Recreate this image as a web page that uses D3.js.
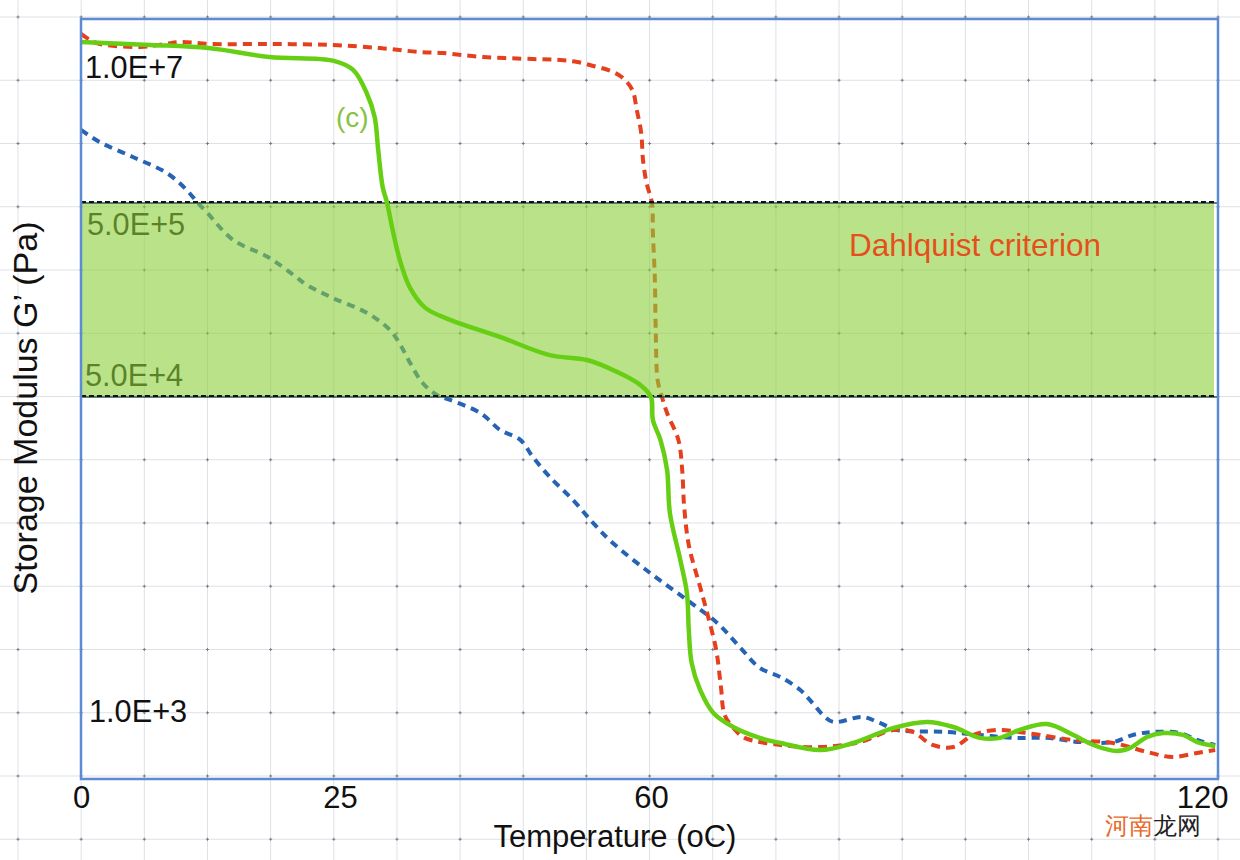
<!DOCTYPE html>
<html>
<head>
<meta charset="utf-8">
<script src="https://cdn.jsdelivr.net/npm/d3@7"></script>
<style>
body { margin: 0; background: #fff; }
text { font-family: "Liberation Sans", Arial, sans-serif; }
</style>
</head>
<body>
<svg id="chart" width="1240" height="860"></svg>
<script>
// axis values
var tempTicks = [0, 25, 60, 120];
var gLabelVals = [1e7, 5e5, 5e4, 1e3];
var gLabelText = ["1.0E+7", "5.0E+5", "5.0E+4", "1.0E+3"];
var dahlquist = [5e4, 5e5];

// sample (c) - solid green
var tempC = [0, 6.7, 12.3, 18.2, 24.4, 26.5, 28.0, 28.9, 29.3, 29.8, 30.3, 31.0, 31.8, 32.9, 34.6,
  37.4, 43.0, 48.6, 52.8, 56.2, 58.8, 60, 60.2, 61.0, 61.7, 62.0, 63.1, 63.8, 64.0, 64.3,
  65.2, 66.6, 68.7, 71.5, 73.7, 77.9, 81.4, 85.6, 89.2, 92.0, 94.8, 96.9, 99.0, 101.9, 104.7,
  106.8, 109.3, 110.7, 112.5, 114.2, 116.3, 117.8, 119.7];
var gC = [2.44e7, 2.28e7, 2.11e7, 1.70e7, 1.55e7, 1.24e7, 7.13e6, 3.99e6, 1.80e6, 7.36e5,
  5.0e5, 3.50e5, 2.48e5, 1.82e5, 1.44e5, 1.25e5, 1.02e5, 8.22e4, 7.76e4, 6.73e4,
  5.77e4, 5.0e4, 3.76e4, 2.94e4, 2.03e4, 1.19e4, 6650, 4420, 2790, 1860,
  1330, 1000, 841, 735, 690, 632, 690, 830, 895, 841,
  735, 735, 811, 873, 762, 673, 625, 649, 743, 780,
  762, 698, 665];

// red dashed
var tempR = [0, 0.9, 1.8, 5.7, 8.1, 9.6, 12.5, 18.2, 24.0, 29.5, 34.0, 36.6, 41.1, 46.7, 49.8,
  51.7, 53.5, 55.2, 56.7, 57.9, 58.4, 58.9, 59.1, 59.5, 60.1, 60.2, 60.4, 60.5, 60.7, 61.1,
  61.7, 62.9, 63.3, 63.5, 64.0, 65.2, 66.0, 66.9, 67.4, 67.8, 68.9, 69.9, 73.7, 77.9, 82.1,
  85.6, 87.7, 89.8, 92.0, 94.1, 96.6, 99.8, 104.7, 108.9, 112.5, 115.2, 117.8, 119.7];
var gR = [2.97e7, 2.56e7, 2.33e7, 2.17e7, 2.33e7, 2.44e7, 2.33e7, 2.33e7, 2.28e7, 2.11e7,
  1.92e7, 1.87e7, 1.70e7, 1.62e7, 1.58e7, 1.51e7, 1.37e7, 1.24e7, 1.05e7, 7.67e6,
  4.73e6, 2.71e6, 1.41e6, 8.11e5, 5.0e5, 3.50e5, 2.08e5, 1.11e5, 6.12e4, 5.12e4,
  4.10e4, 2.94e4, 2.03e4, 1.31e4, 8000, 4760, 3360, 2180, 1380, 975,
  811, 735, 673, 656, 698, 811, 791, 673, 656, 762,
  811, 780, 716, 690, 617, 580, 610, 632];

// blue dashed
var tempB = [0, 1.8, 5.0, 8.3, 10.2, 11.2, 12.2, 14.7, 18.0, 20.5, 21.8, 24.3, 28.0, 30.6, 31.8,
  32.9, 34.3, 35.9, 37.4, 40.8, 43.0, 45.3, 46.7, 48.6, 51.2, 53.5, 55.7, 59.9, 63.8, 67.0,
  69.4, 71.5, 73.7, 75.8, 77.1, 78.2, 79.3, 82.4, 84.2, 86.0, 91.3, 94.8, 98.3, 101.9, 105.4,
  108.9, 111.0, 113.1, 116.0, 117.8, 119.7];
var gB = [2.92e6, 2.18e6, 1.52e6, 1.03e6, 6.84e5, 5.12e5, 4.44e5, 3.22e5, 2.64e5, 2.13e5,
  1.89e5, 1.62e5, 1.36e5, 1.11e5, 9.27e4, 7.48e4, 5.90e4, 5.12e4, 4.82e4, 4.10e4,
  3.33e4, 2.94e4, 2.38e4, 1.86e4, 1.40e4, 1.05e4, 8200, 5660, 4060, 3050,
  2260, 1750, 1560, 1330, 1130, 975, 895, 951, 884, 811,
  791, 762, 735, 735, 698, 698, 762, 791, 780, 716, 673];

var svg = d3.select("#chart"),
    W = +svg.attr("width"),
    H = +svg.attr("height");
var pLeft = 81, pRight = 1218, pTop = 19, pBottom = 779;

// the original axis is not linear, so the scales are piecewise
var x = d3.scaleLinear()
    .domain(tempTicks)
    .range([pLeft, 340, 651, pRight]);
var y = d3.scaleLog()
    .domain([1e3, 5e4, 5e5, 1e7])
    .range([713, 397, 203, 79]);

// graph-paper grid over the whole picture
var grid = svg.append("g");
var gx = d3.range(0, 20).map(function(k) { return 18 + k * (pRight - 18) / 19; });
var gy = d3.range(0, 14).map(function(k) { return 17 + k * 63.25; });
grid.selectAll(".vl").data(gx).enter().append("line")
    .attr("x1", function(d) { return d; }).attr("x2", function(d) { return d; })
    .attr("y1", 0).attr("y2", H)
    .attr("stroke", "#dfe1e8").attr("stroke-width", 1);
grid.selectAll(".hl").data(gy).enter().append("line")
    .attr("y1", function(d) { return d; }).attr("y2", function(d) { return d; })
    .attr("x1", 0).attr("x2", W)
    .attr("stroke", "#dfe1e8").attr("stroke-width", 1);
gx.forEach(function(px) {
  gy.forEach(function(py) {
    grid.append("path")
      .attr("d", "M" + (px - 1.5) + "," + py + "h3M" + px + "," + (py - 1.5) + "v3")
      .attr("stroke", "#7c7c86").attr("stroke-width", 1);
  });
});

var line = d3.line()
    .x(function(d) { return x(d[0]); })
    .y(function(d) { return y(d[1]); })
    .curve(d3.curveCatmullRom.alpha(0.5));

function pairs(t, g) { return t.map(function(v, i) { return [v, g[i]]; }); }

svg.append("path")
    .datum(pairs(tempB, gB))
    .attr("d", line)
    .attr("fill", "none")
    .attr("stroke", "#2663b5")
    .attr("stroke-width", 4)
    .attr("stroke-dasharray", "8,6");

svg.append("path")
    .datum(pairs(tempR, gR))
    .attr("d", line)
    .attr("fill", "none")
    .attr("stroke", "#e5401e")
    .attr("stroke-width", 4)
    .attr("stroke-dasharray", "9,6");

// value labels inside the plot
var offs = [-1, 32, -11, 9];
var lx = [85, 87, 85, 89];
gLabelVals.forEach(function(v, i) {
  svg.append("g")
    .attr("transform", "translate(" + lx[i] + "," + (y(v) + offs[i]) + ")")
   .append("text")
    .attr("transform", "scale(0.96,1)")
    .attr("font-size", 32)
    .attr("fill", "#111")
    .text(gLabelText[i]);
});

// Dahlquist band
svg.append("rect")
    .attr("x", pLeft)
    .attr("y", y(dahlquist[1]))
    .attr("width", pRight - pLeft - 4)
    .attr("height", y(dahlquist[0]) - y(dahlquist[1]))
    .attr("fill", "#8ccf3a")
    .attr("fill-opacity", 0.6);

dahlquist.forEach(function(v) {
  svg.append("line")
    .attr("x1", pLeft).attr("x2", pRight)
    .attr("y1", y(v)).attr("y2", y(v))
    .attr("stroke", "#2c5a52").attr("stroke-width", 1.5);
  svg.append("line")
    .attr("x1", pLeft).attr("x2", pRight)
    .attr("y1", y(v) - 1).attr("y2", y(v) - 1)
    .attr("stroke", "#111").attr("stroke-width", 2)
    .attr("stroke-dasharray", "5,3");
});

svg.append("path")
    .datum(pairs(tempC, gC))
    .attr("d", line)
    .attr("fill", "none")
    .attr("stroke", "#66cf14")
    .attr("stroke-width", 4.5)
    .attr("stroke-linejoin", "round");

// frame
svg.append("rect")
    .attr("x", pLeft).attr("y", pTop)
    .attr("width", pRight - pLeft).attr("height", pBottom - pTop)
    .attr("fill", "none")
    .attr("stroke", "#5b8bd2")
    .attr("stroke-width", 2.5);

svg.append("text")
    .attr("x", 336).attr("y", 127)
    .attr("font-size", 28)
    .attr("fill", "#84c440")
    .text("(c)");

svg.append("text")
    .attr("x", 849).attr("y", 256)
    .attr("font-size", 31.5)
    .attr("fill", "#e64f1c")
    .text("Dahlquist criterion");

// x axis labels
var xAxis = svg.append("g")
    .attr("transform", "translate(0," + pBottom + ")")
    .call(d3.axisBottom(x).tickValues(tempTicks).tickSize(0).tickPadding(0).tickFormat(d3.format("d")));
xAxis.select(".domain").remove();
xAxis.selectAll("text")
    .attr("y", 29)
    .attr("dy", 0)
    .attr("font-size", 31)
    .attr("font-family", "Liberation Sans, Arial, sans-serif")
    .attr("fill", "#111")
    .filter(function(d) { return d === 120; })
    .attr("text-anchor", "end")
    .attr("x", 10);

svg.append("text")
    .attr("x", 615).attr("y", 847)
    .attr("text-anchor", "middle")
    .attr("font-size", 31)
    .attr("fill", "#111")
    .text("Temperature (oC)");

svg.append("text")
    .attr("transform", "translate(37,408) rotate(-90)")
    .attr("text-anchor", "middle")
    .attr("font-size", 34)
    .attr("fill", "#111")
    .text("Storage Modulus G\u2019 (Pa)");

// watermark
var wm = svg.append("text")
    .attr("x", 1105).attr("y", 834)
    .attr("font-size", 24)
    .attr("font-family", "Noto Sans CJK SC, sans-serif");
wm.append("tspan").attr("fill", "#e8682a").text("河南");
wm.append("tspan").attr("fill", "#222").text("龙网");
</script>
</body>
</html>
